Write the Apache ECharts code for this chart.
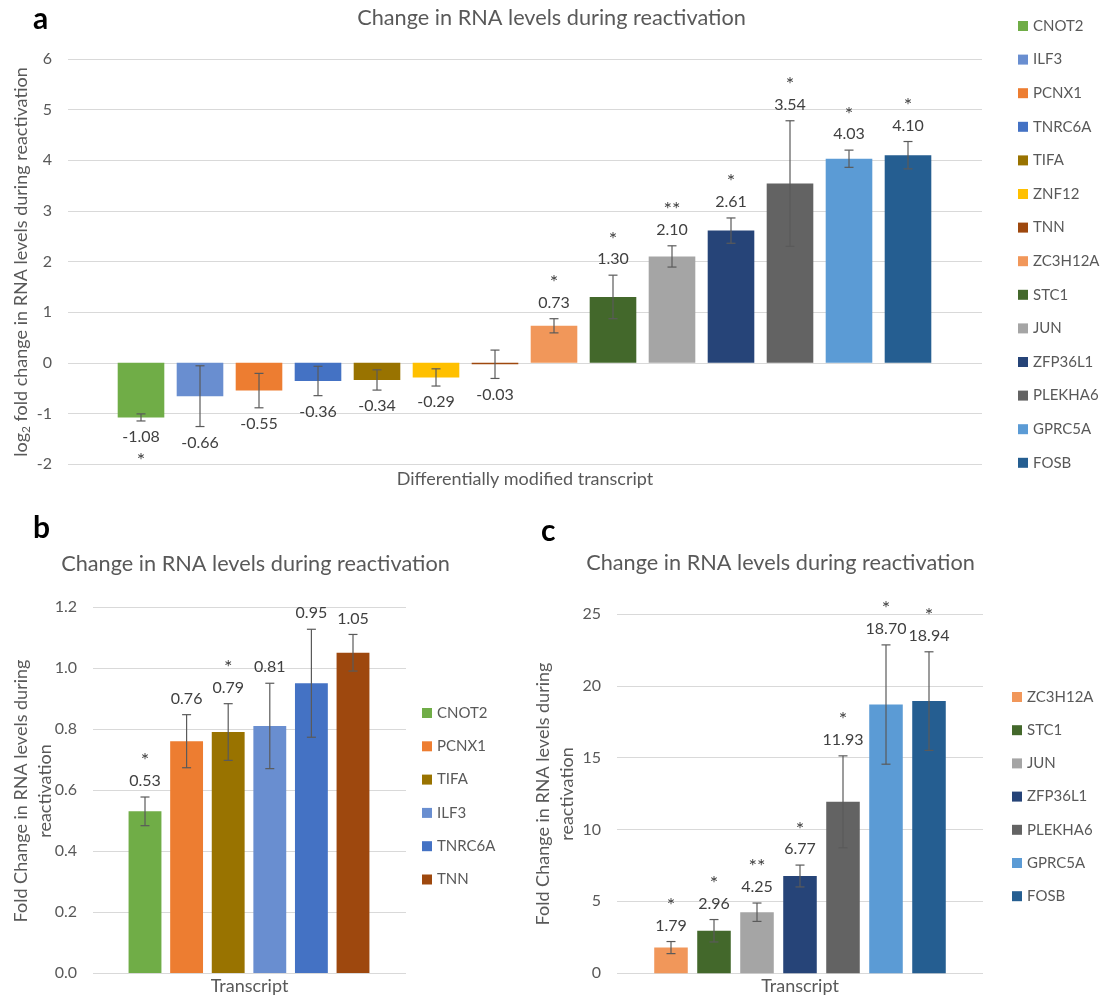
<!DOCTYPE html>
<html>
<head>
<meta charset="utf-8">
<script src="https://cdn.jsdelivr.net/npm/echarts@6/dist/echarts.min.js"></script>
<style>
  html, body { margin: 0; padding: 0; background: #ffffff; }
  #chart { width: 1107px; height: 996px; }
</style>
</head>
<body>
<div id="chart"></div>
<script>
// Panel a: log2 fold change for all differentially modified transcripts
const aGenes = ['CNOT2', 'ILF3', 'PCNX1', 'TNRC6A', 'TIFA', 'ZNF12', 'TNN', 'ZC3H12A', 'STC1', 'JUN', 'ZFP36L1', 'PLEKHA6', 'GPRC5A', 'FOSB'];
const aLog2 = [-1.08, -0.66, -0.55, -0.36, -0.34, -0.29, -0.03, 0.73, 1.30, 2.10, 2.61, 3.54, 4.03, 4.10];
const aErr = [0.07, 0.60, 0.34, 0.29, 0.20, 0.17, 0.28, 0.14, 0.43, 0.21, 0.25, 1.24, 0.17, 0.27];
const aSig = ['*', '', '', '', '', '', '', '*', '*', '**', '*', '*', '*', '*'];

// Panel b: fold change of the down-regulated transcripts
const bGenes = ['CNOT2', 'PCNX1', 'TIFA', 'ILF3', 'TNRC6A', 'TNN'];
const bFold = [0.53, 0.76, 0.79, 0.81, 0.95, 1.05];
const bErr = [0.047, 0.087, 0.093, 0.14, 0.177, 0.06];
const bSig = ['*', '', '*', '', '', ''];

// Panel c: fold change of the up-regulated transcripts
const cGenes = ['ZC3H12A', 'STC1', 'JUN', 'ZFP36L1', 'PLEKHA6', 'GPRC5A', 'FOSB'];
const cFold = [1.79, 2.96, 4.25, 6.77, 11.93, 18.70, 18.94];
const cErr = [0.42, 0.78, 0.64, 0.76, 3.2, 4.15, 3.43];
const cSig = ['*', '*', '**', '*', '*', '*', '*'];

const titleText = 'Change in RNA levels during reactivation';
const foldTitle = 'Fold Change in RNA levels during\nreactivation';
const log2Title = ['log', '2', ' fold change in RNA levels during reactivation'];

const geneColor = {
  CNOT2: '#70AD47', ILF3: '#698ED0', PCNX1: '#ED7D31', TNRC6A: '#4472C4',
  TIFA: '#997300', ZNF12: '#FFC000', TNN: '#9E480E', ZC3H12A: '#F1975A',
  STC1: '#43682B', JUN: '#A5A5A5', ZFP36L1: '#264478', PLEKHA6: '#636363',
  GPRC5A: '#5B9BD5', FOSB: '#255E91'
};

const FONT = 'Lato, "Open Sans", sans-serif';
const GREY = '#595959';
const DARK = '#404040';
const GRID_LINE = '#d9d9d9';

const chart = echarts.init(document.getElementById('chart'), null, { renderer: 'canvas' });

// Layout of each panel: a wide background grid carrying the y axis and
// gridlines, and a narrower grid in which the bars are clustered.
const panels = [
  {
    genes: aGenes, vals: aLog2, err: aErr, sig: aSig,
    bg: { left: 68, width: 914, top: 59, height: 405 },
    bars: { left: 111.5, width: 826, top: 59, height: 405 },
    barWidth: '79%',
    y: { min: -2, max: 6, interval: 1, fmt: v => String(v) },
    xName: 'Differentially modified transcript',
    xNameGap: 6
  },
  {
    genes: bGenes, vals: bFold, err: bErr, sig: bSig,
    bg: { left: 93, width: 313, top: 607, height: 366 },
    bars: { left: 124.2, width: 249.6, top: 607, height: 366 },
    barWidth: '79%',
    y: { min: 0, max: 1.2, interval: 0.2, fmt: v => v.toFixed(1) },
    xName: 'Transcript',
    xNameGap: 4
  },
  {
    genes: cGenes, vals: cFold, err: cErr, sig: cSig,
    bg: { left: 617, width: 366, top: 614, height: 359.3 },
    bars: { left: 649.5, width: 301, top: 614, height: 359.3 },
    barWidth: '78%',
    y: { min: 0, max: 25, interval: 5, fmt: v => String(v) },
    xName: 'Transcript',
    xNameGap: 4
  }
];

const grids = [], xAxes = [], yAxes = [], series = [];

panels.forEach((p, k) => {
  const bgIdx = grids.length;
  grids.push(Object.assign({ containLabel: false }, p.bg));
  const barIdx = grids.length;
  grids.push(Object.assign({ containLabel: false }, p.bars));

  // background axes
  xAxes.push({
    gridIndex: bgIdx, type: 'category', data: [''],
    axisLine: { show: false }, axisTick: { show: false }, axisLabel: { show: false },
    name: p.xName, nameLocation: 'middle', nameGap: p.xNameGap,
    nameTextStyle: { fontFamily: FONT, fontSize: 18, color: GREY, verticalAlign: 'top' }
  });
  yAxes.push({
    gridIndex: bgIdx, type: 'value', min: p.y.min, max: p.y.max, interval: p.y.interval,
    axisLine: { show: false }, axisTick: { show: false },
    axisLabel: { fontFamily: FONT, fontSize: 16, color: GREY, margin: 16, formatter: p.y.fmt },
    splitLine: { lineStyle: { color: GRID_LINE, width: 1 } }
  });

  // bar axes
  const xBarIdx = xAxes.length;
  xAxes.push({ gridIndex: barIdx, type: 'category', data: p.genes, show: false });
  const yBarIdx = yAxes.length;
  yAxes.push({ gridIndex: barIdx, type: 'value', min: p.y.min, max: p.y.max, show: false, splitLine: { show: false } });

  // one bar series per transcript so that each gets its own legend entry
  p.genes.forEach((g, i) => {
    series.push({
      type: 'bar', name: g,
      xAxisIndex: xBarIdx, yAxisIndex: yBarIdx,
      barWidth: p.barWidth, barGap: '-100%',
      itemStyle: { color: geneColor[g] },
      data: p.genes.map((_, j) => (j === i ? p.vals[i] : '-'))
    });
  });

  // error bars with value labels and significance marks
  series.push({
    type: 'custom', name: 'err' + k,
    xAxisIndex: xBarIdx, yAxisIndex: yBarIdx,
    clip: false, z: 5,
    encode: { x: 0, y: 1 },
    data: p.genes.map((g, i) => [g, p.vals[i], p.err[i]]),
    renderItem: function (params, api) {
      const idx = api.value(0);
      const v = api.value(1), e = api.value(2);
      const hi = api.coord([idx, v + e]);
      const lo = api.coord([idx, v - e]);
      const x = hi[0];
      const cap = 4.5;
      const ls = { stroke: '#5a5a5a', lineWidth: 1.2 };
      const labelY = v >= 0 ? hi[1] - 16 : lo[1] + 16;
      const s = p.sig[params.dataIndex];
      const starY = v >= 0 ? labelY - 20 : labelY + 24;
      const children = [
        { type: 'line', shape: { x1: x, y1: hi[1], x2: x, y2: lo[1] }, style: ls },
        { type: 'line', shape: { x1: x - cap, y1: hi[1], x2: x + cap, y2: hi[1] }, style: ls },
        { type: 'line', shape: { x1: x - cap, y1: lo[1], x2: x + cap, y2: lo[1] }, style: ls },
        {
          type: 'text', x: x, y: labelY,
          style: { text: v.toFixed(2), fill: DARK, font: '16px ' + FONT, align: 'center', verticalAlign: 'middle' }
        }
      ];
      if (s) {
        children.push({
          type: 'text', x: x, y: starY,
          style: { text: s, fill: DARK, font: '20px ' + FONT, align: 'center', verticalAlign: 'middle' }
        });
      }
      return { type: 'group', children: children };
    }
  });
});

const legendBase = {
  orient: 'vertical', icon: 'rect', itemWidth: 10, itemHeight: 10, padding: 0,
  itemGap: 17.6, selectedMode: false,
  textStyle: { fontFamily: FONT, fontSize: 15, color: GREY, lineHeight: 16 }
};

// rotated axis titles (read bottom to top)
function yTitle(x, y, text) {
  return {
    type: 'text', x: x, y: y, rotation: Math.PI / 2,
    style: {
      text: text, fontFamily: FONT, fontSize: 18, lineHeight: 24, fill: GREY,
      align: 'center', verticalAlign: 'middle'
    }
  };
}

// "log2 fold change ..." with the base as a subscript, laid out piece by piece
const measureCtx = document.createElement('canvas').getContext('2d');
function textWidth(str, size) {
  measureCtx.font = size + 'px ' + FONT;
  return measureCtx.measureText(str).width;
}
function log2YTitle(cx, cy) {
  const w0 = textWidth(log2Title[0], 18);
  const w1 = textWidth(log2Title[1], 12);
  const w2 = textWidth(log2Title[2], 18);
  const start = -(w0 + w1 + w2) / 2;
  const piece = (str, x, y, size) => ({
    type: 'text', x: x, y: y,
    style: { text: str, fontFamily: FONT, fontSize: size, fill: GREY, align: 'left', verticalAlign: 'middle' }
  });
  return {
    type: 'group', x: cx, y: cy, rotation: Math.PI / 2,
    children: [
      piece(log2Title[0], start, 0, 18),
      piece(log2Title[1], start + w0, 5, 12),
      piece(log2Title[2], start + w0 + w1, 0, 18)
    ]
  };
}

const option = {
  animation: false,
  backgroundColor: '#ffffff',
  grid: grids,
  xAxis: xAxes,
  yAxis: yAxes,
  legend: [
    Object.assign({}, legendBase, { data: aGenes, left: 1018, top: 18 }),
    Object.assign({}, legendBase, { data: bGenes, left: 422, top: 705, itemGap: 17.3 }),
    Object.assign({}, legendBase, { data: cGenes, left: 1012, top: 689, itemGap: 17.2 })
  ],
  graphic: [
    { type: 'text', left: 33, top: 4, style: { text: 'a', font: 'bold 30px ' + FONT, fill: '#000' } },
    { type: 'text', left: 33, top: 513, style: { text: 'b', font: 'bold 30px ' + FONT, fill: '#000' } },
    { type: 'text', left: 541, top: 516, style: { text: 'c', font: 'bold 30px ' + FONT, fill: '#000' } },
    { type: 'text', x: 551.5, y: 18, style: { text: titleText, font: '21.7px ' + FONT, fill: GREY, align: 'center', verticalAlign: 'middle' } },
    { type: 'text', x: 255.5, y: 564, style: { text: titleText, font: '21.7px ' + FONT, fill: GREY, align: 'center', verticalAlign: 'middle' } },
    { type: 'text', x: 780.5, y: 563, style: { text: titleText, font: '21.7px ' + FONT, fill: GREY, align: 'center', verticalAlign: 'middle' } },
    log2YTitle(21, 262),
    yTitle(33, 791, foldTitle),
    yTitle(555, 794, foldTitle)
  ],
  series: series
};

chart.setOption(option);
</script>
</body>
</html>
